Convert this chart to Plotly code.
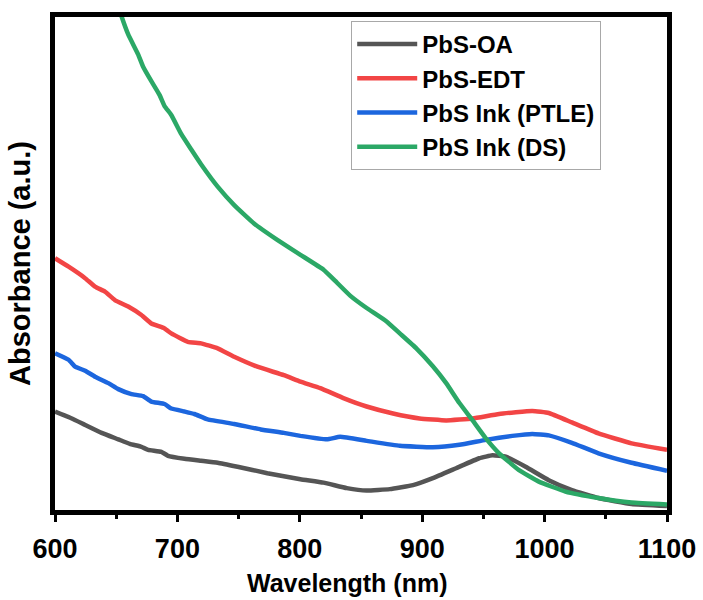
import plotly.graph_objects as go

# Absorption spectra (arbitrary units) vs wavelength in nm
wl_oa = [600, 613.8, 624.6, 638.1, 651.7, 661.1, 670.6, 676.1, 686.9, 692.3, 705.8, 719.3,
         732.9, 749.1, 773.5, 800.5, 819.4, 838.4, 854.6, 873.5, 892.5, 908.7, 927.7,
         946.6, 957.4, 968.3, 984.5, 1003.4, 1022.3, 1044.0, 1071.0, 1100]
abs_oa = [0.202, 0.188, 0.175, 0.159, 0.146, 0.137, 0.131, 0.125, 0.121, 0.113, 0.107, 0.103,
          0.099, 0.091, 0.078, 0.066, 0.059, 0.048, 0.043, 0.046, 0.054, 0.068, 0.088,
          0.108, 0.114, 0.111, 0.091, 0.064, 0.044, 0.028, 0.016, 0.012]

wl_edt = [600, 611.1, 624.6, 632.7, 640.8, 648.9, 659.8, 670.6, 678.7, 689.5, 695.0, 708.5,
          719.3, 732.9, 746.4, 765.3, 786.9, 800.5, 816.7, 835.6, 854.6, 876.2, 897.9,
          919.6, 941.2, 962.8, 989.9, 1003.4, 1022.3, 1044.0, 1071.0, 1100]
abs_edt = [0.510, 0.493, 0.470, 0.453, 0.443, 0.426, 0.413, 0.396, 0.379, 0.369, 0.359, 0.342,
           0.339, 0.329, 0.312, 0.292, 0.275, 0.262, 0.249, 0.229, 0.212, 0.198, 0.188,
           0.184, 0.188, 0.197, 0.203, 0.199, 0.180, 0.158, 0.138, 0.125]

wl_ptle = [600, 611.1, 616.5, 624.6, 632.7, 643.6, 651.7, 662.5, 672.0, 678.7, 689.5, 695.0,
           705.8, 713.9, 724.8, 746.4, 768.0, 786.9, 800.5, 822.2, 833.0, 854.6, 881.7,
           908.7, 930.4, 952.0, 973.6, 989.9, 1003.4, 1022.3, 1044.0, 1071.0, 1100]
abs_ptle = [0.319, 0.306, 0.292, 0.284, 0.272, 0.259, 0.247, 0.237, 0.233, 0.222, 0.217, 0.208,
            0.202, 0.197, 0.186, 0.177, 0.166, 0.159, 0.153, 0.146, 0.151, 0.143, 0.133,
            0.130, 0.135, 0.145, 0.153, 0.157, 0.154, 0.139, 0.118, 0.099, 0.083]

wl_ds = [650, 654.4, 659.8, 667.9, 672.0, 678.7, 685.5, 689.5, 695.0, 703.1, 711.2, 719.3,
         732.9, 746.4, 762.6, 781.6, 800.5, 819.4, 827.5, 841.1, 854.6, 870.9, 881.7,
         895.2, 908.7, 919.6, 930.4, 941.2, 952.0, 962.8, 979.1, 995.3, 1017.0, 1044.0,
         1071.0, 1100]
abs_ds = [1.03, 0.996, 0.960, 0.920, 0.895, 0.866, 0.838, 0.816, 0.798, 0.760, 0.729, 0.699,
          0.654, 0.617, 0.580, 0.547, 0.517, 0.487, 0.468, 0.435, 0.410, 0.383, 0.359,
          0.329, 0.293, 0.259, 0.219, 0.184, 0.148, 0.118, 0.084, 0.061, 0.041, 0.028,
          0.019, 0.015]

series = [
    ("PbS-OA", wl_oa, abs_oa, "#555555"),
    ("PbS-EDT", wl_edt, abs_edt, "#F24545"),
    ("PbS Ink (PTLE)", wl_ptle, abs_ptle, "#1C66DE"),
    ("PbS Ink (DS)", wl_ds, abs_ds, "#2BA866"),
]

x_ticks = [600, 700, 800, 900, 1000, 1100]
x_title = "Wavelength (nm)"
y_title = "Absorbance (a.u.)"

FONT = "Liberation Sans, Arial, sans-serif"

fig = go.Figure()
for name, x, y, color in series:
    fig.add_trace(go.Scatter(
        x=x, y=y, name=name, mode="lines",
        line=dict(color=color, width=4.5, shape="spline", smoothing=0.35),
    ))

# x-axis caption sits slightly left of the plot centre
fig.add_annotation(
    text=x_title, xref="paper", yref="paper", x=0.477, y=-0.148,
    xanchor="center", yanchor="middle", showarrow=False,
    font=dict(family=FONT, size=25, weight="bold", color="black"),
)

fig.update_layout(
    width=703, height=600,
    margin=dict(l=55, r=36, t=17, b=90),
    paper_bgcolor="white", plot_bgcolor="white",
    font=dict(family=FONT, color="black"),
    showlegend=True,
    legend=dict(
        x=0.484, y=0.992, xanchor="left", yanchor="top",
        bgcolor="white", bordercolor="#a8a8a8", borderwidth=1,
        font=dict(family=FONT, size=24, color="black", weight="bold"),
        itemwidth=60, tracegroupgap=0,
    ),
    xaxis=dict(
        range=[600, 1100], tickvals=x_ticks, automargin=False,
        showline=True, linewidth=5, linecolor="black", mirror=True,
        ticks="outside", ticklen=7, tickwidth=3, tickcolor="black",
        minor=dict(dtick=50, tick0=600, ticks="outside", ticklen=4, tickwidth=3, tickcolor="black"),
        showgrid=False, zeroline=False, ticklabelstandoff=4,
        tickfont=dict(family=FONT, size=27, weight="bold"),
    ),
    yaxis=dict(
        range=[0.004, 0.995], automargin=False,
        showline=True, linewidth=5, linecolor="black", mirror=True,
        ticks="", showticklabels=False, showgrid=False, zeroline=False,
        title=dict(text=y_title, font=dict(family=FONT, size=29, weight="bold"), standoff=12),
    ),
)

fig.write_html("out.html")
